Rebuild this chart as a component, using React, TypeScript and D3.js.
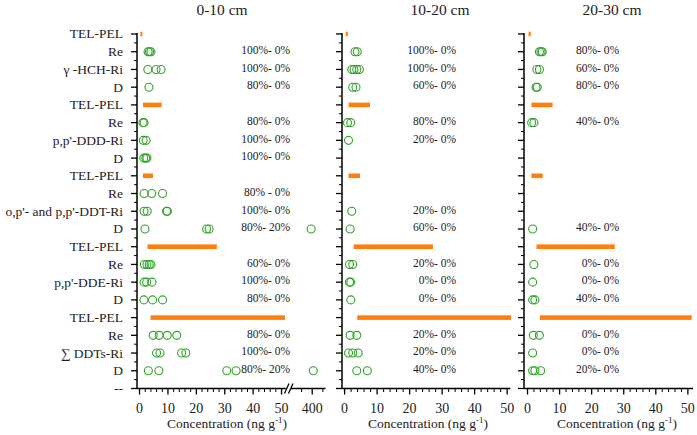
import React from 'react';
import * as d3 from 'd3';

const categories = [
  'TEL-PEL', 'Re', 'γ -HCH-Ri', 'D',
  'TEL-PEL', 'Re', "p,p'-DDD-Ri", 'D',
  'TEL-PEL', 'Re', "o,p'- and p,p'-DDT-Ri", 'D',
  'TEL-PEL', 'Re', "p,p'-DDE-Ri", 'D',
  'TEL-PEL', 'Re', '∑ DDTs-Ri', 'D',
  '--',
];

const depthTitles = ['0-10 cm', '10-20 cm', '20-30 cm'];
const xTickValues = [0, 10, 20, 30, 40, 50];
const breakTickValues = [400];

// guideline (TEL - PEL) ranges, one per compound group
const guidelineRows = [0, 4, 8, 12, 16];
const telValues = [0.32, 1.22, 1.19, 2.8, 3.89];
const pelValues = [0.99, 7.81, 4.77, 27.2, 51.2];

// concentrations (ng/g) per row, depth 0-10 cm
const conc0to10: number[][] = [
  [], [3.0, 3.5, 4.0], [2.9, 5.8, 7.6], [3.3],
  [], [1.2, 1.6], [1.3, 2.3], [1.5, 2.2, 2.6],
  [], [1.6, 4.3, 8.1], [1.6, 2.7, 9.5, 9.8], [1.9, 23.6, 24.5, 398],
  [], [1.7, 2.6, 3.4, 4.0], [1.6, 2.5, 4.4], [1.55, 4.6, 8.1],
  [], [4.8, 6.9, 9.75, 13.1], [6.0, 7.2, 14.8, 16.3], [3.1, 6.8, 30.7, 34.0, 402],
];
const conc10to20: number[][] = [
  [], [3.2, 3.9], [2.2, 2.9, 3.75, 4.55], [2.5, 3.5],
  [], [0.9, 1.9], [1.2], [],
  [], [], [2.2], [1.7],
  [], [1.5, 2.5], [1.5, 1.9], [1.9],
  [], [1.7, 3.75], [1.2, 2.5, 4.2], [3.75, 7.0],
];
const conc20to30: number[][] = [
  [], [3.7, 4.2, 4.6], [2.9, 3.7], [2.65, 3.05],
  [], [1.3, 2.0], [], [],
  [], [], [], [1.6],
  [], [2.0], [1.6], [1.6, 2.3],
  [], [1.8, 3.7], [1.6], [1.6, 2.3, 4.1],
];

// detection / exceedance percentages per row
const pct0to10: (string | null)[] = [
  null, '100%- 0%', '100%- 0%', '80%- 0%',
  null, '80%- 0%', '100%- 0%', '100%- 0%',
  null, '80% - 0%', '100%- 0%', '80%- 20%',
  null, '60%- 0%', '100%- 0%', '80%- 0%',
  null, '80%- 0%', '100%- 0%', '80%- 20%',
];
const pct10to20: (string | null)[] = [
  null, '100%- 0%', '100%- 0%', '60%- 0%',
  null, '80%- 0%', '20%- 0%', null,
  null, null, '20%- 0%', '60%- 0%',
  null, '20%- 0%', '0%- 0%', '0%- 0%',
  null, '20%- 0%', '20%- 0%', '40%- 0%',
];
const pct20to30: (string | null)[] = [
  null, '80%- 0%', '60%- 0%', '80%- 0%',
  null, '40%- 0%', null, null,
  null, null, null, '40%- 0%',
  null, '0%- 0%', '0%- 0%', '40%- 0%',
  null, '0%- 0%', '0%- 0%', '20%- 0%',
];

const W = 697;
const H = 435;
const FONT = '"Liberation Serif", "Times New Roman", Times, serif';
const GREEN = '#33a02c';
const ORANGE = '#ff7f0e';
const TEXT = '#222';

const y = d3.scaleLinear().domain([0, 20]).range([34, 388.5]);
const axisY = 388.5;

type PanelCfg = {
  title: string;
  left: number;
  right: number;
  domain: [number, number];
  titleX: number;
  labelX: number;
  pctRight: number;
  conc: number[][];
  pct: (string | null)[];
  broken: boolean;
};

const panels: PanelCfg[] = [
  { title: depthTitles[0], left: 137, right: 285.8, domain: [-0.9, 51.5], titleX: 222, labelX: 227, pctRight: 290, conc: conc0to10, pct: pct0to10, broken: true },
  { title: depthTitles[1], left: 342, right: 510.4, domain: [-0.8, 51], titleX: 440, labelX: 428, pctRight: 456, conc: conc10to20, pct: pct10to20, broken: false },
  { title: depthTitles[2], left: 524, right: 693, domain: [-1.1, 51.6], titleX: 612, labelX: 617, pctRight: 619, conc: conc20to30, pct: pct20to30, broken: false },
];

const breakScale = d3.scaleLinear().domain([360, 425]).range([291, 325.5]);

function Panel({ cfg, showLabels }: { cfg: PanelCfg; showLabels: boolean }) {
  const x = d3.scaleLinear().domain(cfg.domain).range([cfg.left, cfg.right]);
  const xs = (v: number) => (cfg.broken && v > 100 ? breakScale(v) : x(v));
  const minorX = d3.range(0, 51, 2).filter((v) => v % 10 !== 0);
  const majorRows = d3.range(0, 21);
  const minorRows = d3.range(0, 20).map((i) => i + 0.5);
  const breakMinor = [380, 420];
  return (
    <g>
      <text x={cfg.titleX} y={15} textAnchor="middle" fontSize={15.5} fill={TEXT}>
        {cfg.title}
      </text>
      {/* y axis */}
      <line x1={cfg.left} x2={cfg.left} y1={33} y2={axisY} stroke="#000" strokeWidth={1.5} />
      {majorRows.map((i) => (
        <line key={'ym' + i} x1={cfg.left - 6} x2={cfg.left} y1={y(i)} y2={y(i)} stroke="#000" strokeWidth={1.3} />
      ))}
      {minorRows.map((i) => (
        <line key={'yn' + i} x1={cfg.left - 3} x2={cfg.left} y1={y(i)} y2={y(i)} stroke="#000" strokeWidth={1} />
      ))}
      {showLabels &&
        categories.map((c, i) => (
          <text key={'yl' + i} x={cfg.left - 14} y={y(i)} dy="0.33em" textAnchor="end" fontSize={13.5} fill={TEXT}>
            {c}
          </text>
        ))}
      {/* x axis */}
      <line x1={cfg.left} x2={cfg.right} y1={axisY} y2={axisY} stroke="#000" strokeWidth={1.5} />
      {cfg.broken && (
        <g>
          <line x1={breakScale.range()[0]} x2={breakScale.range()[1]} y1={axisY} y2={axisY} stroke="#000" strokeWidth={1.5} />
          <line x1={284.5} x2={289} y1={axisY + 5} y2={axisY - 5} stroke="#000" strokeWidth={1.3} />
          <line x1={288.5} x2={293} y1={axisY + 5} y2={axisY - 5} stroke="#000" strokeWidth={1.3} />
          {breakTickValues.map((v) => (
            <g key={'bt' + v}>
              <line x1={breakScale(v)} x2={breakScale(v)} y1={axisY} y2={axisY + 6} stroke="#000" strokeWidth={1.3} />
              <text x={breakScale(v)} y={413} textAnchor="middle" fontSize={14} fill={TEXT}>
                {v}
              </text>
            </g>
          ))}
          {breakMinor.map((v) => (
            <line key={'bm' + v} x1={breakScale(v)} x2={breakScale(v)} y1={axisY} y2={axisY + 3.5} stroke="#000" strokeWidth={1} />
          ))}
        </g>
      )}
      {xTickValues.map((v) => (
        <g key={'xt' + v}>
          <line x1={x(v)} x2={x(v)} y1={axisY} y2={axisY + 6} stroke="#000" strokeWidth={1.3} />
          <text x={x(v)} y={413} textAnchor="middle" fontSize={14} fill={TEXT}>
            {v}
          </text>
        </g>
      ))}
      {minorX.map((v) => (
        <line key={'xn' + v} x1={x(v)} x2={x(v)} y1={axisY} y2={axisY + 3.5} stroke="#000" strokeWidth={1} />
      ))}
      <text x={cfg.labelX} y={428} textAnchor="middle" fontSize={13.5} fill={TEXT}>
        Concentration (ng g<tspan dy={-5} fontSize={9}>-1</tspan>
        <tspan dy={5}>)</tspan>
      </text>
      {/* guideline bars */}
      {guidelineRows.map((r, k) => (
        <rect
          key={'g' + r}
          x={xs(telValues[k])}
          y={y(r) - 2.3}
          width={Math.max(1.5, xs(pelValues[k]) - xs(telValues[k]))}
          height={4.6}
          fill={ORANGE}
        />
      ))}
      {/* concentrations */}
      {cfg.conc.map((vals, r) =>
        vals.map((v, j) => (
          <circle key={'c' + r + '-' + j} cx={xs(v)} cy={y(r)} r={4} fill="none" stroke={GREEN} strokeWidth={1.1} />
        ))
      )}
      {/* percentages */}
      {cfg.pct.map((p, r) =>
        p ? (
          <text key={'p' + r} x={cfg.pctRight} y={y(r) - 1.5} dy="0.33em" textAnchor="end" fontSize={11.5} fill={TEXT}>
            {p}
          </text>
        ) : null
      )}
    </g>
  );
}

export default function App() {
  return (
    <svg
      width={W}
      height={H}
      viewBox={`0 0 ${W} ${H}`}
      style={{ position: 'absolute', left: 0, top: 0, background: '#fff', display: 'block', fontFamily: FONT }}
    >
      <rect width={W} height={H} fill="#fff" />
      {panels.map((p, i) => (
        <Panel key={i} cfg={p} showLabels={i === 0} />
      ))}
    </svg>
  );
}
